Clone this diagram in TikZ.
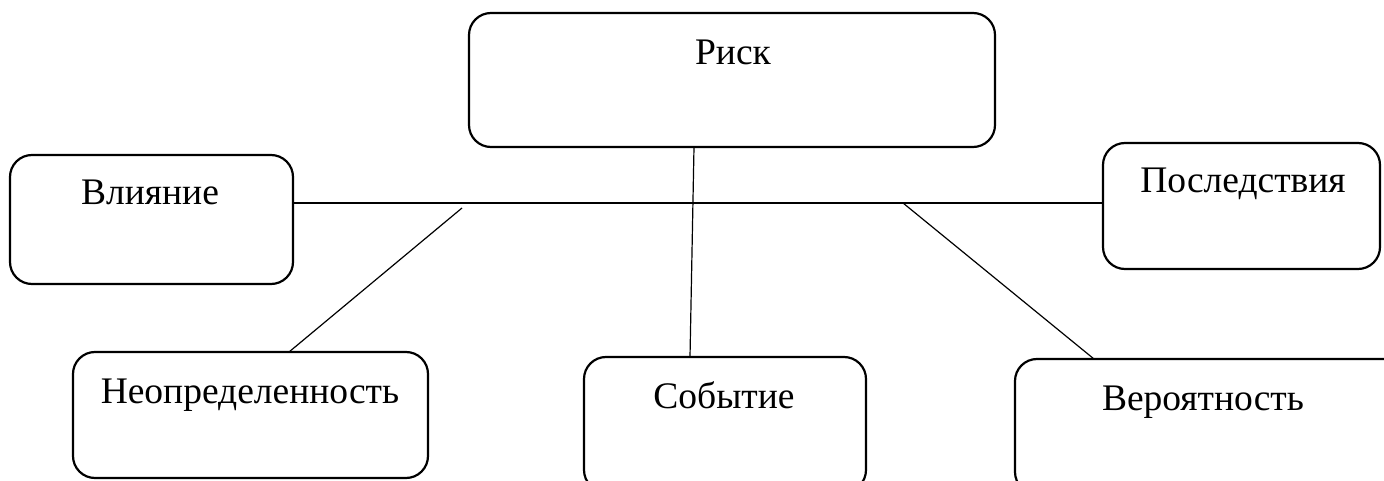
\documentclass[tikz,border=0pt]{standalone}
\usepackage{fontspec}
\setmainfont{Liberation Serif}
\begin{document}
\begin{tikzpicture}[x=1pt,y=-1pt,
  box/.style={draw=black,line width=2.2pt,rounded corners=22pt,rectangle,inner sep=0pt,outer sep=0pt,anchor=north west},
  lbl/.style={anchor=base,inner sep=0pt,font=\fontsize{37.5}{42}\selectfont},
  conn/.style={draw=black,line width=1.2pt}]
\useasboundingbox (0,0) rectangle (1384,481);
\clip (0,0) rectangle (1384,481);
\node[box,minimum width=526pt,minimum height=134pt] (risk) at (469,13) {};
\node[box,minimum width=283pt,minimum height=129pt] (vl) at (10,155) {};
\node[box,minimum width=277pt,minimum height=126pt] (po) at (1103,143) {};
\node[box,minimum width=355pt,minimum height=126pt] (un) at (73,352) {};
\node[box,minimum width=282pt,minimum height=135pt] (ev) at (584,357) {};
\node[box,minimum width=400pt,minimum height=135pt] (ver) at (1015,359) {};
\node[lbl] (trisk) at (733,65) {Риск};
\node[lbl] (tvl) at (150,205) {Влияние};
\node[lbl] (tpo) at (1243,193) {Последствия};
\node[lbl] (tun) at (250,403) {Неопределенность};
\node[lbl] (tev) at (724,408) {Событие};
\node[lbl] (tver) at (1203,410) {Вероятность};
\coordinate (dl) at (462,208);
\coordinate (dr) at (903,203);
\draw[conn] (vl.east |- 0,203) -- (po.west |- 0,203);
\draw[conn] (risk.south -| 694,0) -- (ev.north -| 690,0);
\draw[conn] (dl) -- (un.north -| 289,0);
\draw[conn] (dr) -- (ver.north -| 1094,0);
\end{tikzpicture}
\end{document}
